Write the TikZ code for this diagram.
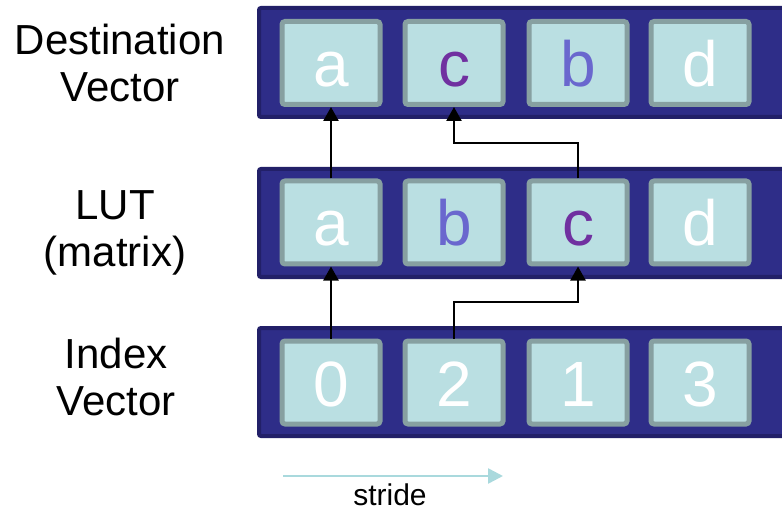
\documentclass[tikz,border=0pt]{standalone}
\usepackage{fontspec}
\setmainfont{Liberation Sans}
\usetikzlibrary{arrows.meta}
\definecolor{barfill}{RGB}{46,45,136}
\definecolor{barline}{RGB}{34,32,104}
\definecolor{cellfill}{RGB}{186,223,226}
\definecolor{cellline}{RGB}{135,160,161}
\definecolor{cpurple}{RGB}{112,48,160}
\definecolor{bblue}{RGB}{106,103,206}
\definecolor{stridecol}{RGB}{169,217,221}
\begin{document}
\begin{tikzpicture}[x=1pt,y=-1pt,
  bar/.style={draw=barline,fill=barfill,line width=4pt,rounded corners=2pt},
  cell/.style={draw=cellline,fill=cellfill,line width=5pt,rounded corners=3pt,
    minimum width=98pt,minimum height=83pt,inner sep=0pt},
  celltxt/.style={anchor=base,font=\fontsize{64}{64}\selectfont,text=white,inner sep=0pt},
  lbl/.style={anchor=base,align=center,font=\fontsize{42}{47}\selectfont,inner sep=0pt},
  conn/.style={line width=2.5pt,-{Triangle[width=15pt,length=14pt]}}]
\clip (0,0) rectangle (782,513);
% bars
\draw[bar] (259,8) rectangle (800,117);
\draw[bar] (259,169) rectangle (800,277);
\draw[bar] (259,328) rectangle (800,436);
% cells
\foreach \n/\x in {1/331,2/454,3/578,4/700}{
  \node[cell] (d\n) at (\x,63) {};
  \node[cell] (l\n) at (\x,222.5) {};
  \node[cell] (i\n) at (\x,382.5) {};
}
% texts
\node[celltxt] (td1) at ([yshift=-23.5pt]d1.center) {a};
\node[celltxt,text=cpurple] (td2) at ([yshift=-23.5pt]d2.center) {c};
\node[celltxt,text=bblue] (td3) at ([yshift=-23.5pt]d3.center) {b};
\node[celltxt] (td4) at ([yshift=-23.5pt]d4.center) {d};
\node[celltxt] (tl1) at ([yshift=-23.5pt]l1.center) {a};
\node[celltxt,text=bblue] (tl2) at ([yshift=-23.5pt]l2.center) {b};
\node[celltxt,text=cpurple] (tl3) at ([yshift=-23.5pt]l3.center) {c};
\node[celltxt] (tl4) at ([yshift=-23.5pt]l4.center) {d};
\node[celltxt] (ti1) at ([yshift=-24pt]i1.center) {0};
\node[celltxt] (ti2) at ([yshift=-24pt]i2.center) {2};
\node[celltxt] (ti3) at ([yshift=-24pt]i3.center) {1};
\node[celltxt] (ti4) at ([yshift=-24pt]i4.center) {3};
% labels (base = baseline of last line)
\node[lbl] (ldest) at (120,102) {Destination\\Vector};
\node[lbl] (llut) at (115,266) {LUT\\(matrix)};
\node[lbl] (lidx) at (116,415) {Index\\Vector};
% connectors
\coordinate (m1) at (0,302);
\coordinate (m2) at (0,143);
\draw[conn] (i1.north) -- (l1.south);
\draw[conn] (i2.north) -- (i2.north |- m1) -| (l3.south);
\draw[conn] (l1.north) -- (d1.south);
\draw[conn] (l3.north) -- (l3.north |- m2) -| (d2.south);
% stride
\coordinate (s1) at (283,476);
\coordinate (s2) at (503,476);
\draw[stridecol,line width=2.5pt,-{Triangle[width=15pt,length=15pt]}] (s1) -- (s2);
\node[anchor=base,font=\fontsize{30}{36}\selectfont,inner sep=0pt] (st) at (390,505) {stride};
\end{tikzpicture}
\end{document}
